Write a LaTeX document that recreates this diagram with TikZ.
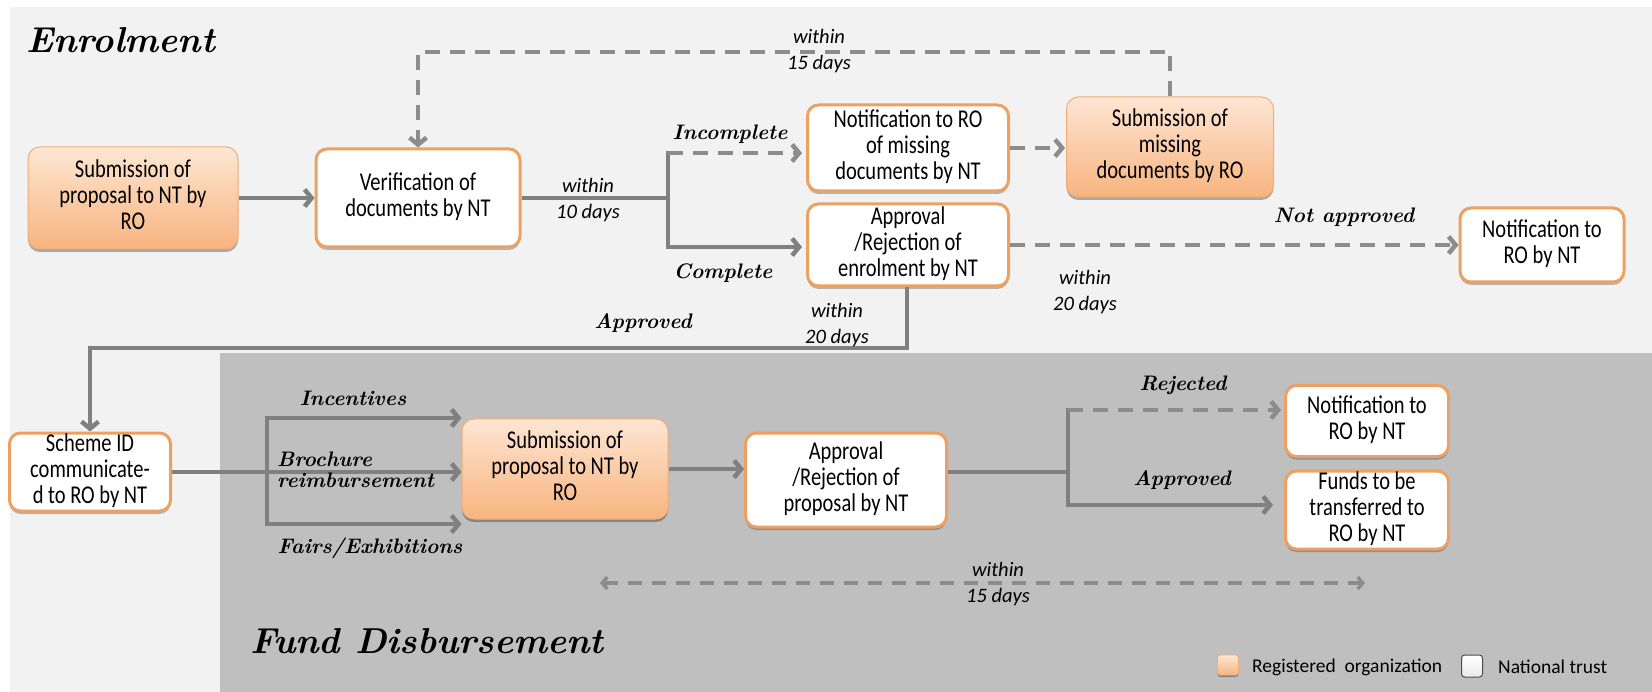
\documentclass[tikz,border=0pt]{standalone}
\usepackage{fontspec}
\newfontfamily\boxfont{Carlito}
\usetikzlibrary{arrows.meta,shadows,calc}
\definecolor{bglight}{HTML}{F2F2F2}
\definecolor{bgdark}{HTML}{BFBFBF}
\definecolor{ntborder}{HTML}{ECA061}
\definecolor{roborder}{HTML}{F0AD78}
\definecolor{rotop}{HTML}{FDE6D3}
\definecolor{robot}{HTML}{F8B47F}
\definecolor{lcol}{HTML}{808080}
\definecolor{dcol}{HTML}{8C8C8C}
\newcommand{\bt}[1]{\scalebox{1}[1.25]{\begin{tabular}{@{}c@{}}#1\end{tabular}}}
\tikzset{
  boxtext/.style={align=center, font=\boxfont\fontsize{20.5}{20.8}\selectfont, inner sep=2pt},
  ntbox/.style={boxtext, rounded corners=11pt, draw=ntborder, line width=3pt, fill=white,
    drop shadow={shadow xshift=0pt, shadow yshift=-3pt, opacity=0.25, fill=black}},
  robox/.style={boxtext, rounded corners=12pt, draw=roborder, line width=1pt, top color=rotop, bottom color=robot,
    drop shadow={shadow xshift=0pt, shadow yshift=-3pt, opacity=0.3, fill=black}},
  plain/.style={draw=lcol, line width=4.5pt},
  conn/.style={plain, -{Straight Barb[length=7pt,width=17pt]}},
  dconn/.style={draw=dcol, line width=4.5pt, dash pattern=on 15pt off 10pt, -{Straight Barb[length=7pt,width=17pt]}},
  bilabel/.style={font=\fontsize{21}{22}\selectfont\bfseries\itshape, inner sep=0pt},
  itlabel/.style={font=\boxfont\fontsize{20.5}{26}\selectfont\itshape, align=center, inner sep=0pt},
  title/.style={font=\fontsize{36}{40}\selectfont\bfseries\itshape, inner sep=0pt},
  legtext/.style={font=\boxfont\fontsize{19.5}{20}\selectfont, inner sep=0pt, anchor=west}
}
\begin{document}
\begin{tikzpicture}[x=1pt,y=-1pt]
% backgrounds
\fill[white] (0,0) rectangle (1652,692);
\fill[bglight] (10,7) rectangle (1652,692);
\fill[bgdark] (220,353) rectangle (1652,692);
\useasboundingbox (0,0) rectangle (1652,692);

% titles
\node[title, anchor=west] (tEnrol) at (26,40) {Enrolment};
\node[title, anchor=base west] (tFund) at (250,653) {Fund Disbursement};

% enrolment boxes
\node[robox, minimum width=210pt, minimum height=102pt] (B1) at (133,198) {\bt{Submission of\\proposal to NT by\\RO}};
\node[ntbox, minimum width=204pt, minimum height=98pt] (B2) at (418,198) {\bt{Verification of\\documents by NT}};
\node[ntbox, minimum width=201pt, minimum height=86pt] (B3) at (908,148) {\bt{Notification to RO\\of missing\\documents by NT}};
\node[robox, minimum width=207pt, minimum height=100pt] (B4) at (1170,147) {\bt{Submission of\\missing\\documents by RO}};
\node[ntbox, minimum width=201pt, minimum height=82pt] (B5) at (908,245) {\bt{Approval\\/Rejection of\\enrolment by NT}};
\node[ntbox, minimum width=164pt, minimum height=74pt] (B6) at (1542,245) {\bt{Notification to\\RO by NT}};

% fund boxes
\node[ntbox, minimum width=161pt, minimum height=73pt, inner sep=0pt] (B7) at (90,472) {\bt{Scheme ID\\communicate-\\d to RO by NT}};
\node[robox, minimum width=206pt, minimum height=100pt] (B8) at (565,469) {\bt{Submission of\\proposal to NT by\\RO}};
\node[ntbox, minimum width=201pt, minimum height=94pt] (B9) at (846,480) {\bt{Approval\\/Rejection of\\proposal by NT}};
\node[ntbox, minimum width=163pt, minimum height=71pt] (B10) at (1367,421) {\bt{Notification to\\RO by NT}};
\node[ntbox, minimum width=163pt, minimum height=72pt, inner sep=0pt] (B11) at (1367,510) {\bt{Funds to be\\transferred to\\RO by NT}};

% enrolment connectors
\draw[conn] (B1.east) -- (B2.west);
\coordinate (J1) at (668,198);
\coordinate (J1t) at (668,153);
\coordinate (J1b) at (668,247);
\draw[plain] (B2.east) -- (J1);
\draw[plain, line cap=rect] (J1t) -- (J1b);
\draw[dconn, shorten >=4pt] (J1t) -- (J1t -| B3.west);
\draw[conn, shorten >=4pt] (J1b) -- (J1b -| B5.west);
\draw[dconn, shorten >=1pt] (B3.east) -- (B3.east -| B4.west);
\coordinate (T1) at (1169,52);
\draw[dconn] (B4.north) -- (B4.north |- T1) -- (B2.north |- T1) -- (B2.north);
\draw[dconn] (B5.east) -- (B5.east -| B6.west);
\coordinate (A1) at (907,348);
\draw[conn] (B5.south -| A1) -- (A1) -- (A1 -| B7.north) -- (B7.north);

% fund connectors
\coordinate (Bt) at (267,418);
\coordinate (Bb) at (267,524);
\draw[plain, line cap=rect] (Bt) -- (Bb);
\draw[conn] (B7.east) -- (B7.east -| B8.west);
\draw[conn] (Bt) -- (Bt -| B8.west);
\draw[conn] (Bb) -- (Bb -| B8.west);
\draw[conn] (B8.east) -- (B8.east -| B9.west);
\coordinate (K) at (1068,472);
\coordinate (Kt) at (1068,410);
\coordinate (Kb) at (1068,505);
\draw[plain] (B9.east |- K) -- (K);
\draw[plain, line cap=rect] (Kt) -- (Kb);
\draw[dconn, shorten >=3pt] (Kt) -- (Kt -| B10.west);
\draw[conn, shorten >=11pt] (Kb) -- (Kb -| B11.west);
\coordinate (D1) at (600,583);
\coordinate (D2) at (1365,583);
\draw[draw=dcol, line width=3.5pt, dash pattern=on 14pt off 10pt,
  {Straight Barb[length=5pt,width=12pt]}-{Straight Barb[length=5pt,width=12pt]}] (D1) -- (D2);

% labels
\node[itlabel] (l10) at (588,200) {within\\10 days};
\node[bilabel] (lInc) at (730,134) {Incomplete};
\node[bilabel] (lCom) at (723,273) {Complete};
\node[bilabel] (lApp1) at (643,323) {Approved};
\node[itlabel] (l20a) at (837,325) {within\\20 days};
\node[itlabel] (l15a) at (819,51) {within\\15 days};
\node[bilabel] (lNot) at (1344,217) {Not approved};
\node[itlabel] (l20b) at (1085,292) {within\\20 days};
\node[bilabel] (lIncen) at (353,398) {Incentives};
\node[bilabel, anchor=west, align=left, font=\fontsize{21}{21}\selectfont\bfseries\itshape] (lBro) at (277,470) {Brochure\\reimbursement};
\node[bilabel] (lFair) at (370,548) {Fairs/Exhibitions};
\node[bilabel] (lRej) at (1183,385) {Rejected};
\node[bilabel] (lApp2) at (1182,480) {Approved};
\node[itlabel] (l15b) at (998,584) {within\\15 days};

% legend
\node[rounded corners=3pt, draw=roborder, line width=0.8pt, top color=rotop, bottom color=robot,
  minimum width=21pt, minimum height=20pt, inner sep=0pt,
  drop shadow={shadow xshift=0pt, shadow yshift=-2pt, opacity=0.3, fill=black}] (legRO) at (1228,665) {};
\node[legtext] (legROt) at (1252,667) {Registered\ \ organization};
\node[rounded corners=3pt, draw=black!70, line width=1pt, top color=white, bottom color=black!8,
  minimum width=21pt, minimum height=22pt, inner sep=0pt] (legNT) at (1472,666) {};
\node[legtext] (legNTt) at (1498,667) {National trust};
\end{tikzpicture}
\end{document}
